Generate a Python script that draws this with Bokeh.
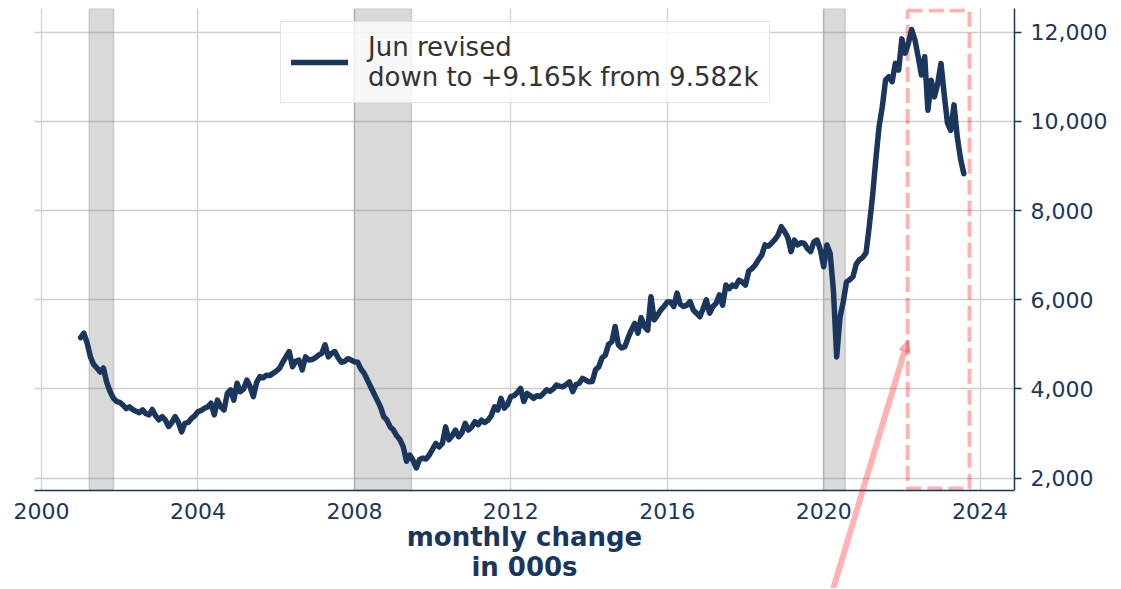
from bokeh.plotting import figure
from bokeh.models import Range1d, FixedTicker, NumeralTickFormatter, BoxAnnotation, Arrow, NormalHead
from bokeh.embed import file_html
from bokeh.resources import INLINE

# ---- data (job openings, thousands), monthly, Dec 2000 .. Jul 2023 ----
start_year = 2000
start_month = 12
v2000 = [5150]
v2001 = [5250, 5030, 4720, 4550, 4470, 4380, 4470, 4150, 3950, 3800, 3720, 3700]
v2002 = [3640, 3560, 3600, 3540, 3500, 3470, 3530, 3450, 3420, 3540, 3400, 3310]
v2003 = [3380, 3300, 3160, 3250, 3380, 3250, 3040, 3230, 3250, 3340, 3400, 3490]
v2004 = [3520, 3570, 3600, 3680, 3420, 3750, 3600, 3530, 3900, 3980, 3750, 4130]
v2005 = [3940, 4000, 4200, 4050, 3830, 4150, 4280, 4250, 4310, 4300, 4350, 4400]
v2006 = [4460, 4600, 4720, 4840, 4500, 4620, 4650, 4430, 4720, 4650, 4660, 4700]
v2007 = [4760, 4800, 4990, 4720, 4800, 4840, 4700, 4600, 4620, 4680, 4650, 4610]
v2008 = [4600, 4450, 4350, 4200, 4050, 3900, 3750, 3600, 3380, 3300, 3150, 3080]
v2009 = [2950, 2860, 2700, 2380, 2520, 2400, 2230, 2420, 2450, 2430, 2520, 2650]
v2010 = [2780, 2700, 2780, 3150, 2860, 2950, 3080, 2930, 3020, 3230, 3080, 3150]
v2011 = [3270, 3200, 3300, 3250, 3300, 3400, 3600, 3530, 3790, 3570, 3650, 3830]
v2012 = [3850, 3920, 4015, 3720, 3900, 3850, 3790, 3850, 3830, 3900, 3980, 3950]
v2013 = [4000, 4090, 4060, 4050, 4100, 4160, 3940, 4100, 4130, 4240, 4200, 4160]
v2014 = [4170, 4430, 4500, 4700, 4760, 5000, 5060, 5400, 4990, 4920, 4950, 5150]
v2015 = [5320, 5470, 5250, 5600, 5400, 5320, 6070, 5550, 5650, 5770, 5850, 5950]
v2016 = [5950, 5850, 6150, 5900, 5850, 5880, 5960, 5770, 5700, 5620, 5800, 6000]
v2017 = [5700, 5850, 5920, 6110, 5880, 6330, 6250, 6330, 6300, 6440, 6400, 6330]
v2018 = [6640, 6700, 6780, 6900, 7000, 7230, 7200, 7270, 7350, 7450, 7640, 7530]
v2019 = [7400, 7080, 7340, 7230, 7280, 7270, 7150, 7080, 7300, 7340, 7120, 6740]
v2020 = [7230, 7040, 6200, 4720, 5600, 5950, 6400, 6450, 6520, 6800, 6900, 6950]
v2021 = [7050, 7650, 8320, 9140, 9880, 10330, 10930, 11000, 10890, 11300, 11150, 11850]
v2022 = [11530, 11750, 12060, 11830, 11450, 11040, 11450, 10250, 10920, 10550, 10850, 11300]
v2023 = [10600, 9960, 9800, 10370, 9650, 9165, 8827]

values = (v2000 + v2001 + v2002 + v2003 + v2004 + v2005 + v2006 + v2007 + v2008 + v2009
          + v2010 + v2011 + v2012 + v2013 + v2014 + v2015 + v2016 + v2017 + v2018
          + v2019 + v2020 + v2021 + v2022 + v2023)
# month-end positions as fractional years
dates = [start_year + (start_month + i) / 12 for i in range(len(values))]

rec_start = [2001.22, 2008.0, 2020.0]
rec_end = [2001.84, 2009.46, 2020.55]

x_ticks = [2000, 2004, 2008, 2012, 2016, 2020, 2024]
y_ticks = [2000, 4000, 6000, 8000, 10000, 12000]

x_axis_min = 1999.82
x_axis_max = 2024.88
y_axis_min = 1724
y_axis_max = 12531
box_x = [2022.15, 2023.73]
box_y = [1769, 12487]
arrow_from = (2020.23, -520)
arrow_to = (2022.15, 5090)

legend_text = "Jun revised\ndown to +9.165k from 9.582k"
xlabel = "monthly change\nin 000s"

NAVY = "#1b365d"
FONT = "DejaVu Sans"

p = figure(frame_width=1014, frame_height=580,
           x_range=Range1d(1998.9506, x_axis_max), y_range=Range1d(-473, y_axis_max),
           output_backend="svg", toolbar_location=None, y_axis_location="right",
           min_border_left=0, min_border_top=8, min_border_right=5, min_border_bottom=0)
p.outline_line_color = None
p.background_fill_color = "white"
p.border_fill_color = "white"

# grid
p.xgrid.ticker = FixedTicker(ticks=x_ticks)
p.ygrid.ticker = FixedTicker(ticks=y_ticks)
p.xgrid.cross_bounds = (y_axis_min, y_axis_max)
p.ygrid.cross_bounds = (x_axis_min, x_axis_max)
for g in (p.xgrid, p.ygrid):
    g.grid_line_color = "#cfcfcf"
    g.grid_line_width = 1.3

# recession bands
for a, b in zip(rec_start, rec_end):
    p.add_layout(BoxAnnotation(left=a, right=b, bottom=y_axis_min, fill_color="gray", fill_alpha=0.3,
                               line_color="gray", line_alpha=0.3, line_width=1.5,
                               level="underlay"))

# dashed highlight box
p.quad(left=[box_x[0]], right=[box_x[1]], bottom=[box_y[0]], top=[box_y[1]],
       fill_alpha=0, line_color="red", line_alpha=0.3, line_width=4, line_dash="15 6")

# main line
p.line(dates, values, line_color=NAVY, line_width=5.5, line_join="round", line_cap="round",
       legend_label=legend_text)

# arrow
p.add_layout(Arrow(end=NormalHead(size=11, fill_color="red", fill_alpha=0.3,
                                  line_color="red", line_alpha=0.3),
                   x_start=arrow_from[0], y_start=arrow_from[1],
                   x_end=arrow_to[0], y_end=arrow_to[1],
                   line_color="red", line_alpha=0.3, line_width=6))

# axes
xa = p.xaxis[0]
xa.fixed_location = y_axis_min
xa.bounds = (x_axis_min, x_axis_max)
xa.ticker = FixedTicker(ticks=x_ticks)
xa.major_tick_out = 0
xa.major_tick_in = 0
xa.minor_tick_out = 0
xa.minor_tick_in = 0
xa.axis_line_color = NAVY
xa.axis_line_width = 1.5
xa.major_label_text_color = NAVY
xa.major_label_text_font = FONT
xa.major_label_text_font_size = "22px"
xa.major_label_standoff = 12
xa.axis_label = xlabel
xa.axis_label_text_font = FONT
xa.axis_label_text_font_size = "26px"
xa.axis_label_text_font_style = "bold"
xa.axis_label_text_color = NAVY
xa.axis_label_text_line_height = 1.0
xa.axis_label_standoff = 0

ya = p.yaxis[0]
ya.bounds = (y_axis_min, y_axis_max)
ya.ticker = FixedTicker(ticks=y_ticks)
ya.formatter = NumeralTickFormatter(format="0,0")
ya.major_tick_out = 7
ya.major_tick_in = 0
ya.minor_tick_out = 0
ya.minor_tick_in = 0
ya.major_tick_line_color = NAVY
ya.major_tick_line_width = 1.5
ya.axis_line_color = NAVY
ya.axis_line_width = 1.5
ya.major_label_text_color = NAVY
ya.major_label_text_font = FONT
ya.major_label_text_font_size = "22px"
ya.major_label_standoff = 9

# legend
lg = p.legend[0]
lg.location = (280, 485)
lg.padding = 10
lg.spacing = 0
lg.label_text_font = FONT
lg.label_text_font_size = "26px"
lg.label_text_line_height = 1.45
lg.label_text_color = "#333333"
lg.label_standoff = 20
lg.glyph_width = 57
lg.glyph_height = 30
lg.border_line_color = "#cccccc"
lg.border_line_width = 1.5
lg.background_fill_color = "white"
lg.background_fill_alpha = 0.8

open("out.html", "w").write(file_html(p, INLINE))
